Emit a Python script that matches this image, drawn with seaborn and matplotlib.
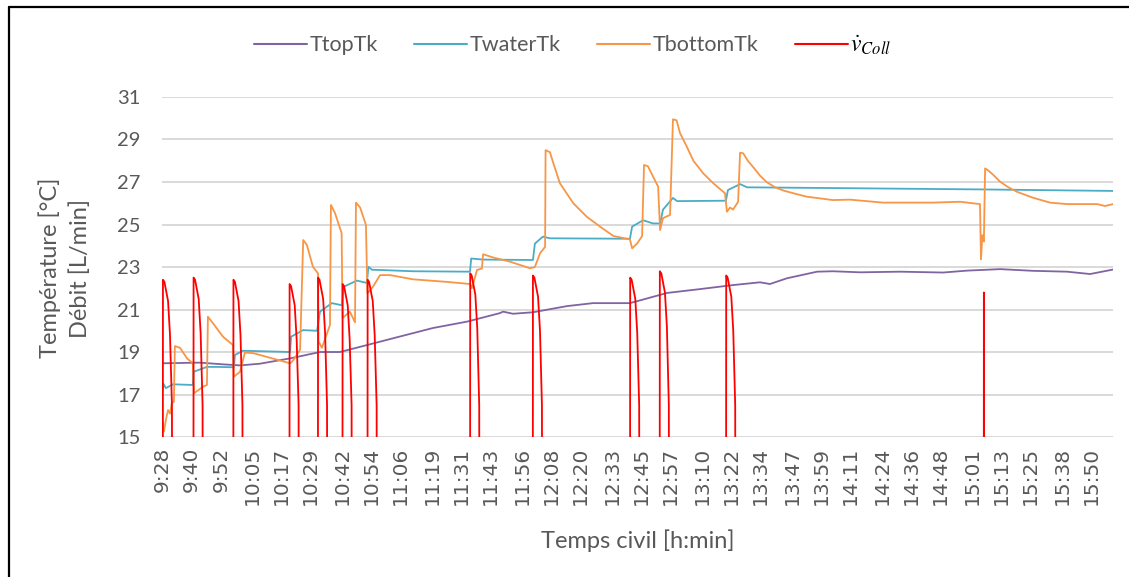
import matplotlib
matplotlib.use("Agg")
import matplotlib.pyplot as plt
from matplotlib.lines import Line2D
import seaborn as sns
import pandas as pd

# temps en minutes depuis 9:28
t_top = [0, 15.4, 24.9, 31.9, 40.1, 52.5, 64.8, 73.0, 86.6, 97.7, 111.3, 125.3, 138.8, 140.1,
         144.2, 152.4, 166.4, 177.1, 192.3, 207.6, 221.1, 234.7, 245.8, 249.9, 256.9, 269.3,
         275.8, 287.0, 303.4, 321.1, 331.0, 344.6, 358.1, 372.1, 381.6, 391.0]
v_top = [18.47, 18.5, 18.42, 18.37, 18.45, 18.7, 19.0, 19.0, 19.4, 19.73, 20.13, 20.43, 20.83, 20.9,
         20.8, 20.87, 21.16, 21.3, 21.3, 21.78, 21.96, 22.15, 22.28, 22.2, 22.47, 22.78,
         22.8, 22.75, 22.78, 22.74, 22.83, 22.9, 22.82, 22.78, 22.67, 22.88]

t_water = [0, 0.4, 1.4, 4.3, 12.5, 12.8, 18.3, 22.4, 29.4, 29.8, 33.1, 52.5, 52.9, 57.8, 63.6,
           64.8, 69.7, 73.8, 74.5, 80.0, 84.1, 84.7, 86.2, 89.5, 103.1, 126.5, 127.0, 131.9,
           152.4, 153.2, 156.5, 159.4, 192.3, 193.2, 197.7, 201.8, 204.7, 205.9, 210.0, 211.7,
           231.8, 232.6, 237.6, 240.5, 289.8, 337.6, 391.0]
v_water = [17.2, 17.5, 17.3, 17.48, 17.45, 18.07, 18.3, 18.3, 18.28, 18.86, 19.06, 19.0, 19.72, 20.03, 20.0,
           20.9, 21.3, 21.2, 22.07, 22.36, 22.25, 23.01, 22.87, 22.86, 22.8, 22.78, 23.4, 23.35,
           23.33, 24.1, 24.43, 24.35, 24.33, 24.9, 25.2, 25.05, 25.05, 25.7, 26.25, 26.1,
           26.12, 26.62, 26.9, 26.75, 26.7, 26.65, 26.58]

t_bottom = [0, 0.6, 1.4, 2.3, 3.1, 3.8, 4.7, 5.1, 7.2, 10.1, 12.5, 13.0, 16.7, 18.3, 18.7, 20.8,
            24.9, 29.0, 29.4, 31.9, 33.9, 37.2, 52.5, 53.7, 56.6, 57.9, 59.4, 61.9, 64.0, 64.2,
            65.6, 68.9, 69.3, 71.0, 73.7, 74.1, 77.1, 79.2, 79.6, 81.3, 83.7, 84.3, 86.6, 89.5,
            93.6, 103.1, 117.0, 126.5, 127.3, 129.4, 131.4, 131.9, 136.0, 143.0, 151.2, 153.2,
            155.3, 157.4, 157.6, 159.4, 160.8, 163.5, 169.0, 174.5, 180.0, 185.5, 192.3,
            193.2, 195.2, 197.3, 198.1, 199.7, 203.9, 204.7, 205.9, 208.8, 210.0, 211.5,
            212.9, 215.7, 218.4, 222.5, 226.6, 231.4, 232.2, 233.5, 234.7, 236.8, 237.6,
            238.9, 240.8, 243.0, 245.8, 248.5, 252.0, 255.4, 260.2, 265.0, 275.8, 282.8,
            296.4, 317.0, 328.1, 336.3, 336.7, 337.3, 337.9, 338.4, 339.6, 341.8, 344.6,
            348.0, 351.5, 358.1, 365.1, 372.1, 384.5, 387.7, 391.0]
v_bottom = [15.72, 15.25, 15.8, 16.27, 16.1, 16.58, 16.66, 19.28, 19.2, 18.7, 18.47, 17.06, 17.37, 17.45, 20.66, 20.35,
            19.72, 19.33, 17.84, 18.07, 18.97, 18.95, 18.47, 18.6, 19.1, 24.27, 24.04, 23.01, 22.7, 19.5,
            19.2, 20.27, 25.92, 25.53, 24.59, 20.6, 20.9, 20.4, 26.03, 25.8, 24.98, 21.76, 22.07, 22.62,
            22.62, 22.42, 22.3, 22.2, 22.0, 22.86, 22.93, 23.6, 23.45, 23.25, 22.94, 23.0,
            23.64, 23.95, 28.5, 28.4, 27.88, 26.94, 26.0, 25.37, 24.9, 24.46, 24.3,
            23.88, 24.1, 24.45, 27.8, 27.74, 26.78, 24.74, 25.3, 25.45, 29.95, 29.9,
            29.3, 28.66, 28.0, 27.4, 26.94, 26.47, 25.6, 25.8, 25.7, 26.07, 28.38,
            28.35, 28.0, 27.7, 27.3, 27.0, 26.75, 26.6, 26.45, 26.31, 26.15, 26.17,
            26.03, 26.03, 26.07, 25.96, 23.36, 24.5, 24.2, 27.64, 27.55, 27.33, 27.01,
            26.75, 26.54, 26.26, 26.03, 25.96, 25.96, 25.87, 25.96]

# débit du capteur (0 hors pompage, coupé par l'axe à 15)
t_debit = [0.1, 0.2, 0.8, 2.3, 3.1, 3.9, 4.1,
           12.7, 12.8, 13.4, 14.9, 15.7, 16.5, 16.7,
           29.1, 29.2, 29.8, 31.3, 32.1, 32.9, 33.1,
           52.2, 52.3, 52.9, 54.4, 55.2, 56.0, 56.2,
           63.9, 64.0, 64.6, 66.1, 66.9, 67.7, 67.9,
           74.0, 74.1, 74.7, 76.2, 77.0, 77.8, 78.0,
           84.3, 84.4, 85.0, 86.5, 87.3, 88.1, 88.3,
           126.5, 126.6, 127.2, 128.7, 129.5, 130.3, 130.5,
           152.3, 152.4, 153.0, 154.5, 155.3, 156.1, 156.3,
           192.3, 192.4, 193.0, 194.5, 195.3, 196.1, 196.3,
           204.5, 204.6, 205.2, 206.7, 207.5, 208.3, 208.5,
           231.8, 231.9, 232.5, 234.0, 234.8, 235.6, 235.8,
           337.8, 337.9, 338.0]
v_debit = [0, 22.4, 22.3, 21.4, 19.8, 16.5, 0,
           0, 22.5, 22.4, 21.5, 19.9, 16.5, 0,
           0, 22.4, 22.3, 21.4, 19.8, 16.5, 0,
           0, 22.2, 22.1, 21.2, 19.6, 16.5, 0,
           0, 22.5, 22.4, 21.5, 19.9, 16.5, 0,
           0, 22.2, 22.1, 21.2, 19.6, 16.5, 0,
           0, 22.4, 22.3, 21.4, 19.8, 16.5, 0,
           0, 22.7, 22.6, 21.7, 20.1, 16.5, 0,
           0, 22.6, 22.5, 21.6, 20.0, 16.5, 0,
           0, 22.5, 22.4, 21.5, 19.9, 16.5, 0,
           0, 22.8, 22.7, 21.8, 20.2, 16.5, 0,
           0, 22.6, 22.5, 21.6, 20.0, 16.5, 0,
           0, 21.8, 0]

labels_temps = ["9:28", "9:40", "9:52", "10:05", "10:17", "10:29", "10:42", "10:54", "11:06",
                "11:19", "11:31", "11:43", "11:56", "12:08", "12:20", "12:33", "12:45", "12:57",
                "13:10", "13:22", "13:34", "13:47", "13:59", "14:11", "14:24", "14:36", "14:48",
                "15:01", "15:13", "15:25", "15:38", "15:50"]

series = [("TtopTk", t_top, v_top, "#8064A2"),
          ("TwaterTk", t_water, v_water, "#4BACC6"),
          ("TbottomTk", t_bottom, v_bottom, "#F79646"),
          (r"$\dot{v}_{Coll}$", t_debit, v_debit, "#FF0000")]

sns.set_theme(style="white")
plt.rcParams["font.family"] = ["Lato", "DejaVu Sans"]
plt.rcParams["mathtext.fontset"] = "stix"
gris = "#595959"

fig = plt.figure(figsize=(11.29, 5.77), dpi=100)
ax = fig.add_axes([0.1439, 0.2426, 0.8419, 0.5893])

for nom, t, v, c in series:
    df = pd.DataFrame({"t": t, "v": v})
    sns.lineplot(data=df, x="t", y="v", ax=ax, color=c, lw=1.3, sort=False,
                 estimator=None, legend=False)

# positions des étiquettes = heure affichée - 9:28
pos = []
for lab in labels_temps:
    h, m = lab.split(":")
    pos.append(int(h) * 60 + int(m) - (9 * 60 + 28))

ax.set_xlim(0, 391)
ax.set_ylim(15, 31)
ax.set_yticks(range(15, 32, 2))
ax.set_xticks(pos)
ax.set_xticklabels(labels_temps, rotation=90, fontfamily="DejaVu Sans", fontsize=14.5, color=gris)
ax.tick_params(axis="y", labelsize=14.5, labelcolor=gris, length=0, pad=16)
ax.tick_params(axis="x", length=0, pad=7)
ax.grid(axis="y", color="#D9D9D9", lw=1.4)
ax.set_axisbelow(True)
for s in ax.spines.values():
    s.set_visible(False)
ax.set_xlabel("")
ax.set_ylabel("")

fig.text(0.5647, 0.0624, "Temps civil [h:min]", ha="center", va="center", fontsize=17, color=gris)
fig.text(0.0575, 0.535, "Température [°C]\nDébit [L/min]", ha="center", va="center",
         rotation=90, fontsize=17, color=gris, linespacing=1.45, multialignment="center")

handles = [Line2D([], [], color=c, lw=1.5) for _, _, _, c in series]
noms = [n for n, _, _, _ in series]
leg = fig.legend(handles, noms, loc="center left", bbox_to_anchor=(0.225, 0.922), ncol=4,
                 frameon=False, fontsize=15.5, handlelength=2.45, handletextpad=0.12,
                 columnspacing=1.7, borderpad=0, borderaxespad=0)
for txt in leg.get_texts():
    txt.set_color(gris)
leg.get_texts()[3].set_color("black")
leg.get_texts()[3].set_fontsize(17)

# cadre
fig.add_artist(Line2D([0.008, 0.008], [0, 0.988], color="black", lw=1.6))
fig.add_artist(Line2D([0.008, 1.0], [0.988, 0.988], color="black", lw=1.6))

fig.savefig("out.png", dpi=100)
